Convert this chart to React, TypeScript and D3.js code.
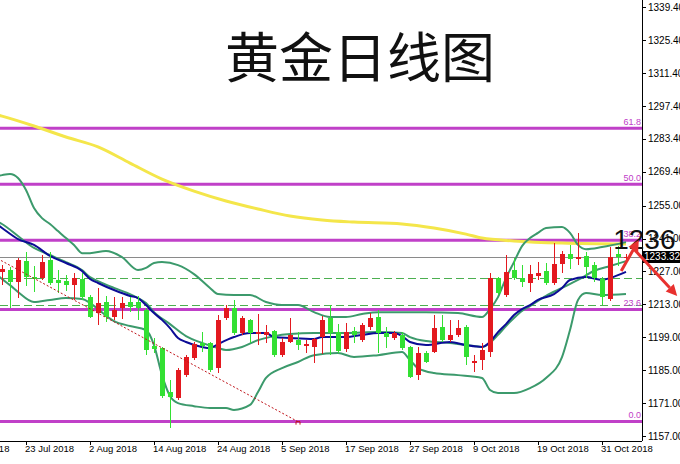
import React from 'react';
import * as d3 from 'd3';

const W = 680;
const H = 464;
const plotRight = 642;
const plotBottom = 441;

// daily OHLC, bar 0 = 18 Jul 2018 ... bar 78 = 5 Nov 2018
const open = [
  1226.8, 1227.6, 1222.5, 1231.4, 1224.6, 1224.2, 1231.9, 1223.4, 1222.9, 1221.2,
  1223.8, 1216.1, 1209.3, 1214.0, 1207.6, 1211.4, 1214.0, 1214.0, 1210.6, 1195.3,
  1194.4, 1175.7, 1173.2, 1182.9, 1190.2, 1196.6, 1196.6, 1185.9, 1207.2, 1211.4,
  1200.8, 1206.4, 1200.4, 1200.0, 1201.7, 1191.4, 1197.0, 1197.8, 1195.3, 1194.9,
  1199.1, 1207.2, 1201.2, 1194.0, 1201.7, 1197.8, 1203.4, 1207.6, 1200.8, 1198.7,
  1200.0, 1194.9, 1182.9, 1192.3, 1192.7, 1203.4, 1197.8, 1200.0, 1203.4, 1188.0,
  1189.3, 1192.7, 1224.2, 1217.0, 1227.6, 1224.2, 1222.1, 1225.1, 1227.2, 1222.1,
  1230.2, 1234.4, 1232.3, 1233.6, 1229.7, 1223.8, 1215.3, 1234.4, 1232.9,
];
const high = [
  1229.7, 1228.9, 1232.7, 1235.3, 1229.3, 1234.0, 1235.3, 1227.6, 1225.5, 1226.3,
  1226.3, 1217.0, 1220.0, 1216.6, 1216.1, 1216.1, 1216.1, 1216.6, 1211.4, 1198.7,
  1194.9, 1180.8, 1185.9, 1191.4, 1197.0, 1201.2, 1197.0, 1208.5, 1212.7, 1214.9,
  1208.0, 1206.8, 1208.9, 1204.2, 1202.1, 1198.7, 1207.2, 1201.2, 1197.8, 1198.7,
  1208.0, 1212.7, 1204.6, 1205.1, 1203.4, 1205.1, 1209.3, 1210.6, 1203.4, 1201.7,
  1201.2, 1195.3, 1194.9, 1193.2, 1208.5, 1208.5, 1206.4, 1206.4, 1204.2, 1191.4,
  1196.6, 1226.3, 1224.6, 1234.0, 1232.7, 1229.7, 1229.7, 1231.0, 1230.6, 1239.1,
  1235.7, 1238.3, 1243.4, 1235.3, 1231.0, 1224.6, 1237.4, 1237.8, 1234.4,
];
const low = [
  1221.2, 1211.4, 1215.7, 1220.8, 1218.3, 1223.4, 1221.2, 1217.8, 1218.7, 1214.9,
  1214.9, 1207.2, 1204.2, 1205.5, 1206.4, 1206.8, 1209.7, 1206.4, 1191.4, 1192.3,
  1173.2, 1160.4, 1172.3, 1182.1, 1189.3, 1192.7, 1184.2, 1183.8, 1206.4, 1200.0,
  1200.0, 1196.6, 1195.7, 1196.6, 1190.6, 1190.6, 1196.6, 1193.6, 1192.3, 1188.0,
  1191.9, 1191.4, 1192.3, 1192.7, 1196.6, 1197.0, 1202.1, 1192.3, 1194.4, 1197.8,
  1193.6, 1181.7, 1180.8, 1188.0, 1192.3, 1197.0, 1197.0, 1199.1, 1187.2, 1184.2,
  1185.1, 1190.6, 1217.0, 1216.1, 1223.4, 1220.4, 1218.3, 1223.4, 1221.2, 1221.2,
  1226.3, 1228.0, 1229.7, 1224.2, 1222.5, 1212.7, 1214.4, 1229.3, 1231.0,
];
const close = [
  1228.0, 1222.5, 1231.9, 1224.6, 1223.8, 1231.0, 1222.1, 1222.1, 1221.2, 1224.2,
  1216.1, 1207.6, 1213.6, 1207.6, 1210.6, 1213.6, 1211.9, 1211.4, 1193.6, 1194.0,
  1174.0, 1173.6, 1185.1, 1190.6, 1196.1, 1195.3, 1185.1, 1206.4, 1211.4, 1200.8,
  1207.2, 1200.8, 1201.2, 1201.2, 1191.4, 1197.0, 1200.0, 1195.7, 1196.1, 1198.3,
  1206.4, 1200.8, 1193.2, 1201.2, 1200.0, 1204.2, 1207.2, 1200.8, 1199.1, 1200.8,
  1194.4, 1182.1, 1192.3, 1188.5, 1202.9, 1197.8, 1200.0, 1202.9, 1190.6, 1188.9,
  1193.6, 1224.2, 1217.8, 1226.8, 1224.2, 1222.5, 1225.9, 1226.3, 1222.1, 1230.2,
  1234.4, 1232.3, 1233.1, 1228.9, 1224.2, 1216.1, 1233.1, 1233.1, 1233.3,
];

const dateTickBars = [-5, 3, 11, 19, 27, 35, 43, 51, 59, 67, 75];
const dateTickLabels = [
  '11 Jul 2018', '23 Jul 2018', '2 Aug 2018', '14 Aug 2018', '24 Aug 2018', '5 Sep 2018',
  '17 Sep 2018', '27 Sep 2018', '9 Oct 2018', '19 Oct 2018', '31 Oct 2018',
];
const priceTicks = [1339.4, 1325.4, 1311.4, 1297.4, 1283.4, 1269.4, 1255, 1241, 1227, 1213, 1199, 1185, 1171, 1157];

// indicator lines: [bar, price]
const bbUpper: [number, number][] = [
  [-1, 1267.2], [0, 1268.0], [1, 1268.5], [2, 1266.8], [3, 1261.7], [4, 1254.0], [5, 1249.7], [6, 1247.2],
  [7, 1244.2], [8, 1241.2], [9, 1238.3], [10, 1234.8], [11, 1234.8], [13, 1235.7], [15, 1233.1], [17, 1227.6],
  [18, 1228.5], [19, 1230.6], [20, 1231.0], [22, 1229.7], [24, 1225.9], [26, 1220.0], [27, 1217.4], [29, 1217.0],
  [31, 1217.0], [33, 1214.0], [35, 1212.7], [37, 1212.7], [39, 1209.7], [41, 1207.6], [43, 1207.6], [45, 1208.9],
  [47, 1209.7], [50, 1209.7], [53, 1209.7], [57, 1209.3], [60, 1207.6], [61, 1211.0], [62, 1216.1], [63, 1224.2],
  [64, 1231.0], [65, 1237.8], [66, 1241.2], [67, 1243.4], [68, 1245.5], [70, 1245.9], [71, 1243.4], [72, 1238.3],
  [73, 1236.5], [75, 1237.4], [78, 1239.5],
];
const bbMiddle: [number, number][] = [
  [-1, 1248.9], [0, 1247.2], [2, 1242.1], [4, 1237.0], [6, 1234.0], [8, 1231.0], [10, 1227.6], [11, 1224.6],
  [12, 1222.9], [14, 1220.0], [16, 1217.4], [17, 1215.7], [18, 1213.6], [19, 1209.7], [21, 1204.6], [23, 1199.5],
  [25, 1196.6], [27, 1194.4], [28, 1193.6], [30, 1194.9], [32, 1197.8], [34, 1199.5], [36, 1200.4], [39, 1200.8],
  [43, 1200.8], [47, 1201.2], [50, 1200.8], [51, 1199.1], [53, 1197.4], [56, 1196.6], [59, 1195.3], [60, 1194.9],
  [61, 1196.6], [62, 1200.0], [63, 1203.8], [64, 1207.2], [65, 1210.2], [66, 1212.3], [68, 1216.6], [70, 1220.0],
  [72, 1223.4], [74, 1227.2], [76, 1229.3], [78, 1231.4],
];
const bbLower: [number, number][] = [
  [-1, 1226.8], [0, 1223.8], [1, 1221.2], [2, 1218.3], [4, 1214.0], [6, 1214.9], [8, 1215.7], [10, 1215.3],
  [11, 1213.6], [12, 1211.0], [14, 1205.9], [16, 1203.8], [18, 1202.1], [19, 1195.7], [20, 1182.9], [21, 1174.0],
  [22, 1171.0], [24, 1169.7], [26, 1168.9], [28, 1168.9], [29, 1168.1], [31, 1170.2], [32, 1175.7], [33, 1181.7],
  [35, 1185.9], [37, 1188.5], [39, 1191.4], [42, 1192.3], [44, 1190.6], [47, 1191.4], [50, 1192.7], [51, 1189.3],
  [52, 1185.9], [54, 1183.8], [57, 1182.9], [60, 1181.7], [61, 1176.6], [62, 1175.3], [64, 1175.3], [66, 1177.4],
  [68, 1181.7], [70, 1190.6], [71, 1202.1], [72, 1214.9], [73, 1217.8], [75, 1217.0], [78, 1217.4],
];
const maBlue: [number, number][] = [
  [-1, 1248.0], [0, 1245.5], [2, 1240.8], [4, 1238.3], [6, 1233.6], [8, 1230.6], [10, 1227.2], [11, 1223.8],
  [12, 1222.1], [14, 1219.1], [16, 1216.6], [17, 1215.7], [18, 1212.7], [19, 1209.3], [20, 1206.4], [21, 1202.9],
  [22, 1198.7], [23, 1197.0], [25, 1194.9], [26, 1194.4], [27, 1196.1], [29, 1199.1], [31, 1200.8], [33, 1200.8],
  [34, 1199.1], [36, 1198.7], [39, 1198.3], [40, 1199.1], [43, 1199.1], [45, 1200.0], [47, 1200.8], [49, 1200.8],
  [50, 1199.5], [51, 1197.0], [53, 1195.7], [56, 1197.0], [58, 1195.7], [60, 1194.9], [61, 1197.0], [62, 1201.2],
  [63, 1204.6], [64, 1208.5], [65, 1211.0], [66, 1212.7], [67, 1214.9], [69, 1217.4], [70, 1220.0], [71, 1223.4],
  [73, 1224.6], [75, 1223.4], [76, 1224.2], [78, 1226.8],
];
const maYellow: [number, number][] = [
  [-1, 1294.0], [0, 1293.1], [4, 1288.9], [8, 1284.2], [12, 1280.0], [16, 1273.1], [20, 1266.3], [24, 1261.2],
  [28, 1257.0], [32, 1253.6], [36, 1250.6], [40, 1248.9], [44, 1248.0], [50, 1247.2], [54, 1245.5], [58, 1242.9],
  [60, 1241.2], [64, 1240.0], [70, 1239.1], [78, 1238.7],
];

const fibLow = 1163.2;
const fibHigh = 1365.0;
const fibLevels = [0, 23.6, 38.2, 50.0, 61.8];
const dashedLevels = [1224.2, 1212.9];
const bid = 1233.32;
const trendLine: [number, number][] = [[-1, 1233.3], [37, 1163.1]];
const arrowUp: [number, number][] = [[77.4, 1227.2], [79.6, 1240.4]];
const arrowDown: [number, number][] = [[78.75, 1237.4], [84.4, 1216.6]];
const targetNote = { bar: 76.4, price: 1236.5, text: '1236' };
const title = '黄金日线图';

const UP = '#e3191f';
const DOWN = '#33e033';
const BAND = '#3c9a6c';
const FIB = '#c040c8';

const x = d3.scaleLinear().domain([0, 78]).range([2, 626]);
const y = d3.scaleLinear().domain([1157, 1339.4]).range([436, 7.3]);

const curve = d3.line<[number, number]>()
  .x(d => x(d[0]))
  .y(d => y(d[1]))
  .curve(d3.curveMonotoneX);

const straight = d3.line<[number, number]>().x(d => x(d[0])).y(d => y(d[1]));

const Arrow = ({ pts }: { pts: [number, number][] }) => {
  const [x0, y0] = [x(pts[0][0]), y(pts[0][1])];
  const [x1, y1] = [x(pts[1][0]), y(pts[1][1])];
  const a = Math.atan2(y1 - y0, x1 - x0);
  const len = 11, half = 5.5;
  const bx = x1 - len * Math.cos(a), by = y1 - len * Math.sin(a);
  const head = [
    [x1, y1],
    [bx + half * Math.sin(a), by - half * Math.cos(a)],
    [bx - half * Math.sin(a), by + half * Math.cos(a)],
  ];
  return (
    <g>
      <line x1={x0} y1={y0} x2={bx} y2={by} stroke="#e8312f" strokeWidth={3} />
      <polygon points={head.map(p => p.join(',')).join(' ')} fill="#e8312f" />
    </g>
  );
};

export default function App() {
  const bars = open.map((o, i) => ({ i, o, h: high[i], l: low[i], c: close[i] }));
  const fibY = (lv: number) => y(fibLow + (fibHigh - fibLow) * lv / 100);
  const trendEnd = trendLine[1];

  return (
    <div style={{ position: 'absolute', left: 0, top: 0 }}>
      <svg width={W} height={H} style={{ display: 'block', background: '#fff' }} fontFamily="'Liberation Sans', Arial, sans-serif">
        <defs>
          <clipPath id="plot">
            <rect x={0} y={0} width={plotRight} height={plotBottom} />
          </clipPath>
        </defs>

        <g clipPath="url(#plot)">
          {dashedLevels.map((p, i) => (
            <line key={i} x1={0} x2={plotRight} y1={Math.round(y(p)) + 0.5} y2={Math.round(y(p)) + 0.5}
              stroke="#4caf50" strokeWidth={1} strokeDasharray="8,4" />
          ))}
          <line x1={0} x2={plotRight} y1={Math.round(y(bid)) + 0.5} y2={Math.round(y(bid)) + 0.5} stroke="#8a8a8a" strokeWidth={1} />

          {fibLevels.map(lv => (
            <g key={lv}>
              <line x1={0} x2={plotRight} y1={fibY(lv)} y2={fibY(lv)} stroke={FIB} strokeWidth={3} />
              <text x={plotRight - 1} y={fibY(lv) - 3} textAnchor="end" fontSize={9} fill={FIB}>{lv.toFixed(1)}</text>
            </g>
          ))}

          <path d={curve(maYellow) ?? ''} fill="none" stroke="#f4e64a" strokeWidth={3} />
          <path d={curve(bbUpper) ?? ''} fill="none" stroke={BAND} strokeWidth={2} />
          <path d={curve(bbLower) ?? ''} fill="none" stroke={BAND} strokeWidth={2} />
          <path d={curve(bbMiddle) ?? ''} fill="none" stroke={BAND} strokeWidth={2} />
          <path d={curve(maBlue) ?? ''} fill="none" stroke="#0c0c96" strokeWidth={2} />

          {bars.map(b => {
            const cx = Math.round(x(b.i));
            const col = b.c >= b.o ? UP : DOWN;
            const top = Math.round(y(Math.max(b.o, b.c)));
            const bot = Math.round(y(Math.min(b.o, b.c)));
            return (
              <g key={b.i}>
                <line x1={cx + 0.5} x2={cx + 0.5} y1={Math.round(y(b.h))} y2={Math.round(y(b.l))} stroke={col} strokeWidth={1} />
                <rect x={cx - 2} y={top} width={5} height={Math.max(1, bot - top)} fill={col} />
              </g>
            );
          })}

          <path d={straight(trendLine) ?? ''} fill="none" stroke="#c0141a" strokeWidth={1} strokeDasharray="2,2" />
          <path d={`M${x(trendEnd[0]) - 2},${y(trendEnd[1]) + 3} v-3 h4 v3`} fill="none" stroke="#c0141a" strokeWidth={1} />
        </g>

        <line x1={plotRight + 0.5} x2={plotRight + 0.5} y1={0} y2={plotBottom} stroke="#000" />
        <line x1={0} x2={plotRight} y1={plotBottom + 0.5} y2={plotBottom + 0.5} stroke="#000" />

        {priceTicks.map(p => (
          <g key={p}>
            <line x1={plotRight} x2={plotRight + 4} y1={Math.round(y(p)) + 0.5} y2={Math.round(y(p)) + 0.5} stroke="#000" />
            <text x={plotRight + 6} y={y(p)} dy="0.35em" fontSize={10} fill="#000">{p.toFixed(2)}</text>
          </g>
        ))}

        {dateTickBars.map((bi, i) => (
          <g key={bi}>
            <line x1={Math.round(x(bi)) + 0.5} x2={Math.round(x(bi)) + 0.5} y1={plotBottom} y2={plotBottom + 4} stroke="#000" />
            <text x={x(bi) - 1} y={452} fontSize={9.5} fill="#000">{dateTickLabels[i]}</text>
          </g>
        ))}

        <rect x={plotRight + 1} y={Math.round(y(bid)) - 6} width={W - plotRight} height={12} fill="#000" />
        <text x={plotRight + 2} y={y(bid)} dy="0.35em" fontSize={10} fill="#fff">{bid.toFixed(2)}</text>

        <text x={360} y={78} textAnchor="middle" fontSize={54} fill="#111"
          fontFamily="'Noto Sans CJK SC', sans-serif">{title}</text>

        <text x={x(targetNote.bar)} y={y(targetNote.price)} fontSize={28} fill="#111">{targetNote.text}</text>
        <Arrow pts={arrowUp} />
        <Arrow pts={arrowDown} />
      </svg>
    </div>
  );
}
